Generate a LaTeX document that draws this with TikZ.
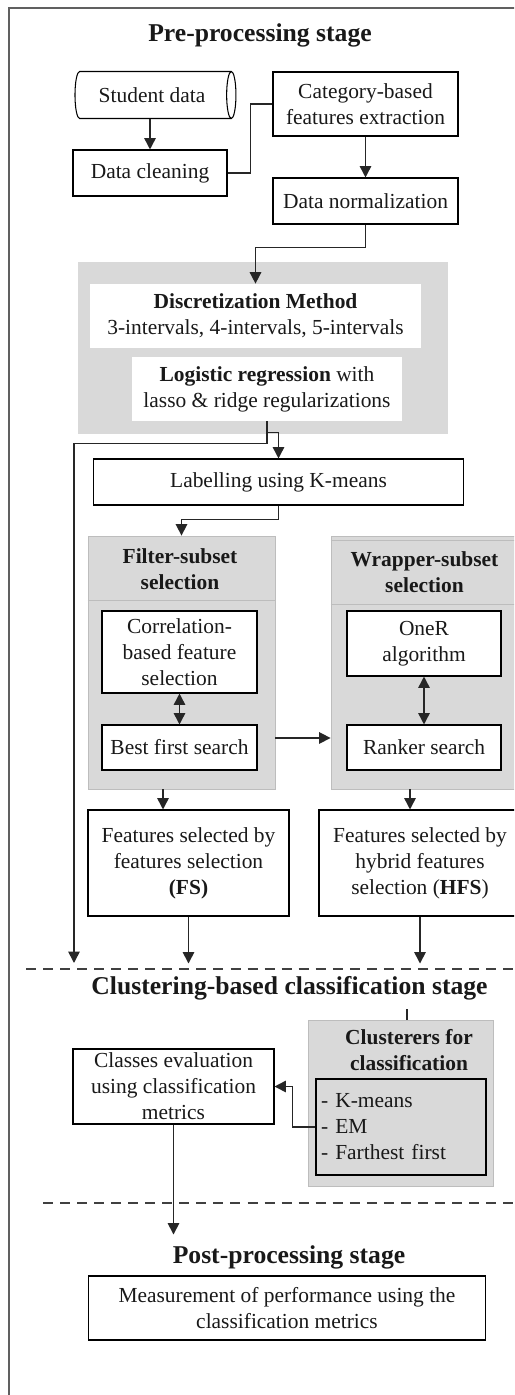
\documentclass[tikz,border=0pt]{standalone}
\usepackage{fontspec}
\setmainfont{Liberation Serif}
\usepackage{tikz}
\usetikzlibrary{%
	arrows.meta,%
	calc,%
	shapes.geometric,
	backgrounds
}
\definecolor{panelgray}{HTML}{D9D9D9}
\definecolor{panelrule}{HTML}{BDBDBD}
\definecolor{framegray}{HTML}{606060}
\tikzset{
	txt/.style={font=\fontsize{12.2}{14.8}\selectfont,text=black!90},
	proc/.style={txt,draw=black,line width=0.6pt,fill=white,align=center,inner sep=1pt},
	whitebox/.style={txt,fill=white,align=center,inner sep=1pt},
	panel/.style={fill=panelgray,draw=panelrule,line width=0.5pt,inner sep=0pt},
	paneltitle/.style={txt,font=\fontsize{12.2}{14.8}\selectfont\bfseries,align=center},
	stagetitle/.style={font=\fontsize{14.6}{17}\selectfont\bfseries,text=black!90},
	arr/.style={line width=0.9pt,draw=black!85,-{Triangle[width=6.5pt,length=6.5pt]}},
	dblarr/.style={line width=0.9pt,draw=black!85,{Triangle[width=6.5pt,length=6.5pt]}-{Triangle[width=6.5pt,length=6.5pt]}},
	link/.style={line width=0.9pt,draw=black!85},
	stageline/.style={line width=0.7pt,draw=black!75,dash pattern=on 5.7pt off 4pt},
	frame/.style={line width=1.1pt,draw=framegray}
}

\begin{document}
\begin{tikzpicture}[x=0.02cm,y=-0.02cm]
	\clip (0,0) rectangle (514,1395);
	\draw[frame] (9,1420) -- (9,8) -- (540,8);

	\node[stagetitle] (pre) at (260,35) {Pre-processing stage};
	\node[proc,cylinder,shape aspect=0.5,minimum width=0.94cm,minimum height=3.22cm] (student) at (152,95) {Student data};
	\node[proc,minimum width=3.08cm,minimum height=0.92cm] (clean) at (150,173) {Data cleaning};
	\node[proc,minimum width=3.7cm,minimum height=1.28cm] (cat) at (365.5,104) {Category-based\\features extraction};
	\node[proc,minimum width=3.7cm,minimum height=0.92cm] (norm) at (365.5,201) {Data normalization};

	\node[panel,draw=none,minimum width=7.4cm,minimum height=3.44cm] (dpanel) at (263,348) {};
	\node[whitebox,minimum width=6.62cm,minimum height=1.28cm] (disc) at (255.5,316) {\textbf{Discretization Method}\\3-intervals, 4-intervals, 5-intervals};
	\node[whitebox,minimum width=5.4cm,minimum height=1.28cm] (logit) at (267,389) {\textbf{Logistic regression} with\\lasso \& ridge regularizations};
	\node[proc,minimum width=7.42cm,minimum height=0.92cm] (label) at (278.5,482) {Labelling using K-means};

	\node[panel,minimum width=3.74cm,minimum height=5.06cm] (filter) at (181.5,662.5) {};
	\node[panel,minimum width=3.98cm,minimum height=5.06cm] (wrapper) at (430.5,662.5) {};
	\draw[panelrule,line width=0.5pt] ([yshift=-1.3cm]filter.north west) -- ([yshift=-1.3cm]filter.north east);
	\draw[panelrule,line width=0.5pt] ([yshift=-1.38cm]wrapper.north west) -- ([yshift=-1.38cm]wrapper.north east);
	\draw[panelrule,line width=0.5pt] ([yshift=-0.1cm]wrapper.north west) -- ([yshift=-0.1cm]wrapper.north east);
	\node[paneltitle] (ftitle) at (180,569.5) {Filter-subset\\selection};
	\node[paneltitle] (wtitle) at (424.5,572.5) {Wrapper-subset\\selection};
	\node[proc,minimum width=3.1cm,minimum height=1.64cm] (corr) at (179.5,652) {Correlation-\\based feature\\selection};
	\node[proc,minimum width=3.1cm,minimum height=0.9cm] (best) at (179.5,747.5) {Best first search};
	\node[proc,minimum width=3.08cm,minimum height=1.3cm] (oner) at (424,643.5) {OneR\\algorithm};
	\node[proc,minimum width=3.08cm,minimum height=0.9cm] (ranker) at (424,747.5) {Ranker search};
	\node[proc,minimum width=4.02cm,minimum height=2.12cm] (fs) at (188.5,863) {Features selected by\\features selection\\\textbf{(FS)}};
	\node[proc,minimum width=4.04cm,minimum height=2.12cm] (hfs) at (420,863) {Features selected by\\hybrid features\\selection (\textbf{HFS})};

	\node[stagetitle] (clust) at (289.5,988) {Clustering-based classification stage};
	\node[panel,minimum width=3.7cm,minimum height=3.32cm] (clus) at (400.5,1103) {};
	\node[paneltitle] (ctitle) at (409,1050) {Clusterers for\\classification};
	\node[proc,fill=panelgray,align=left,text width=3.2cm,inner sep=0.1cm,minimum height=1.92cm] (list) at (401,1127) {- K-means\\- EM\\- Farthest first};
	\node[proc,minimum width=4.02cm,minimum height=1.5cm] (classes) at (173.5,1086.5) {Classes evaluation\\using classification\\metrics};

	\node[stagetitle] (post) at (289,1257) {Post-processing stage};
	\node[proc,minimum width=7.96cm,minimum height=1.28cm] (meas) at (287,1308) {Measurement of performance using the\\classification metrics};

	\draw[stageline] (26,969) -- (540,969);
	\draw[stageline] (43,1203) -- (540,1203);
	\coordinate (skip) at (74,963);

	\draw[arr] (clean.north |- student.south) -- (clean.north);
	\draw[link] (clean.east) -- ++(23,0) |- (cat.west);
	\draw[arr] (cat.south) -- (norm.north);
	\draw[arr] (norm.south) -- ++(0,23) -| (disc.north);
	\draw[arr] (logit.south) -- ++(0,11) -| (label.north);
	\draw[arr] (logit.south) -- ++(0,22) -| (skip);
	\draw[arr] (label.south) -- ++(0,14) -| (filter.north);
	\draw[dblarr] (corr.south) -- (best.north);
	\draw[dblarr] (oner.south) -- (ranker.north);
	\draw[arr] ([yshift=-1.51cm]filter.east) -- ([yshift=-1.51cm]wrapper.west);
	\draw[arr] ([xshift=-0.37cm]filter.south) -- ([xshift=-0.37cm]filter.south |- fs.north);
	\draw[arr] ([xshift=-0.41cm]wrapper.south) -- ([xshift=-0.41cm]wrapper.south |- hfs.north);
	\foreach \n in {fs,hfs}
		\draw[arr] (\n.south) -- ++(0,47);
	\draw[link] ([xshift=0.13cm]clus.north) -- ++(0,-11);
	\draw[arr] (list.west) -- ++(-23,0) |- (classes.east);
	\draw[arr] (classes.south) -- ++(0,110);
\end{tikzpicture}
\end{document}
